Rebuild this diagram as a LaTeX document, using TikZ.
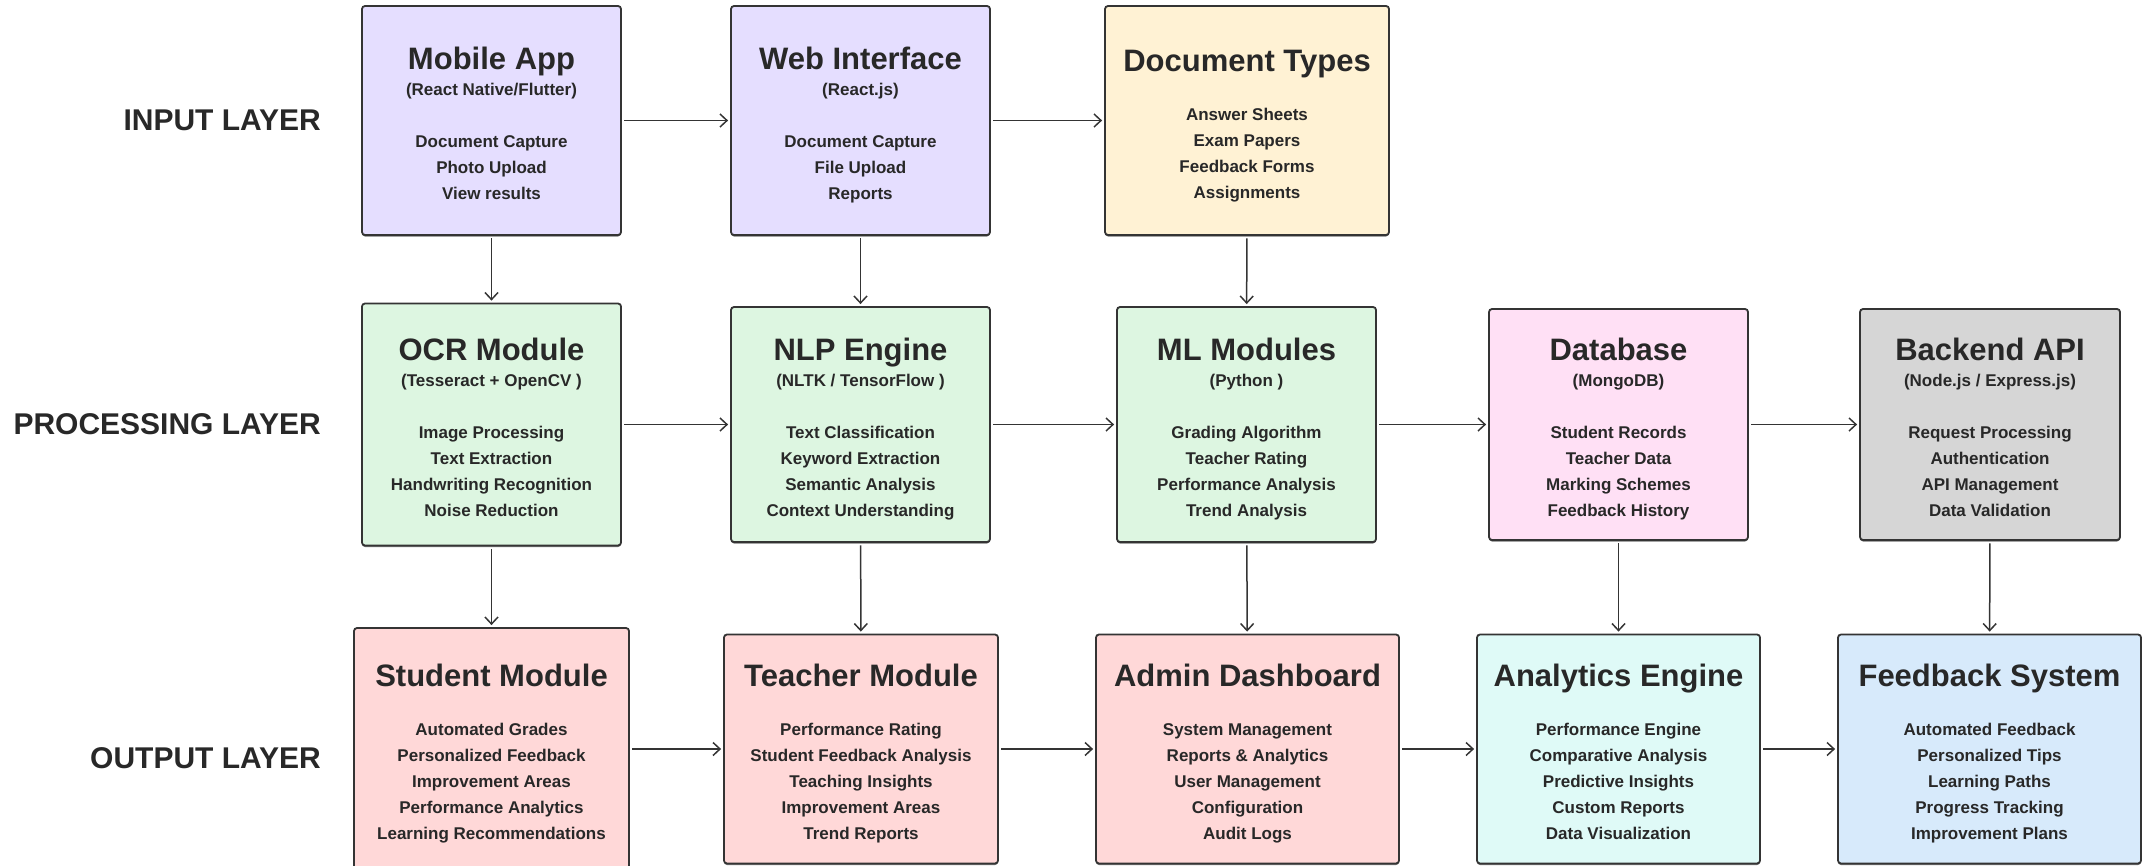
\documentclass[tikz,border=0pt]{standalone}
\usepackage{fontspec}
\setmainfont{Liberation Sans}
\usetikzlibrary{arrows.meta,shadows}
\definecolor{cpurple}{RGB}{229,222,255}
\definecolor{cyellow}{RGB}{255,242,212}
\definecolor{cgreen}{RGB}{221,246,225}
\definecolor{cpink}{RGB}{255,224,245}
\definecolor{cgray}{RGB}{214,214,214}
\definecolor{cred}{RGB}{255,216,216}
\definecolor{ccyan}{RGB}{223,250,247}
\definecolor{cblue}{RGB}{215,234,251}
\definecolor{strk}{RGB}{52,52,52}
\definecolor{txt}{RGB}{40,40,40}
\newcommand\bxc[1]{\setbox0=\vbox{\hsize=200pt\fontsize{17}{26}\selectfont\lineskiplimit=-\maxdimen\lineskip=0pt #1}\dp0=0pt\box0}
\newcommand\bxl[1]{\hbox to\hsize{\hss#1\hss}}
\newcommand\bxt[1]{\bxl{\vrule height 28pt width 0pt\fontsize{31}{31}\selectfont#1}}
\newcommand\bxgap{\bxl{}}
\newcommand\bxgapb{\bxl{}\vskip-3pt}
\begin{document}
\begin{tikzpicture}[x=1pt,y=-1pt,
  bx/.style={draw=strk, line width=1.8pt, rounded corners=3pt, inner sep=0pt,
    text=txt, font=\bfseries,
    drop shadow={shadow xshift=0pt,shadow yshift=-1.5pt,fill=black,opacity=.55}},
  lay/.style={anchor=east, inner sep=0pt, text=txt, font=\fontsize{30}{30}\selectfont\bfseries},
  arr/.style={draw=strk, line width=1.5pt, shorten <=2.5pt, shorten >=2pt,
    -{Straight Barb[length=7pt,width=13pt,line width=1.5pt]}}
]
\useasboundingbox (0,0) rectangle (2152,865);

% layer labels
\node[lay] (lin) at (321,120) {INPUT LAYER};
\node[lay] (lpr) at (321,424) {PROCESSING LAYER};
\node[lay] (lou) at (321,758) {OUTPUT LAYER};

% input layer
\node[bx, fill=cpurple, minimum width=259pt, minimum height=229pt] (mob) at (491.5,120.5)
  {\bxc{\bxt{Mobile App}\bxl{(React Native/Flutter)}\bxgap
  \bxl{Document Capture}\bxl{Photo Upload}\bxl{View results}}};
\node[bx, fill=cpurple, minimum width=259pt, minimum height=229pt] (web) at (860.5,120.5)
  {\bxc{\bxt{Web Interface}\bxl{(React.js)}\bxgap
  \bxl{Document Capture}\bxl{File Upload}\bxl{Reports}}};
\node[bx, fill=cyellow, minimum width=284pt, minimum height=229pt] (doc) at (1247,120.5)
  {\bxc{\bxt{Document Types}\bxgapb
  \bxl{Answer Sheets}\bxl{Exam Papers}\bxl{Feedback Forms}\bxl{Assignments}}};

% processing layer
\node[bx, fill=cgreen, minimum width=259pt, minimum height=242pt] (ocr) at (491.5,424.5)
  {\bxc{\bxt{OCR Module}\bxl{(Tesseract + OpenCV )}\bxgap
  \bxl{Image Processing}\bxl{Text Extraction}\bxl{Handwriting Recognition}\bxl{Noise Reduction}}};
\node[bx, fill=cgreen, minimum width=259pt, minimum height=235pt] (nlp) at (860.5,424.5)
  {\bxc{\bxt{NLP Engine}\bxl{(NLTK / TensorFlow )}\bxgap
  \bxl{Text Classification}\bxl{Keyword Extraction}\bxl{Semantic Analysis}\bxl{Context Understanding}}};
\node[bx, fill=cgreen, minimum width=259pt, minimum height=235pt] (ml) at (1246.5,424.5)
  {\bxc{\bxt{ML Modules}\bxl{(Python )}\bxgap
  \bxl{Grading Algorithm}\bxl{Teacher Rating}\bxl{Performance Analysis}\bxl{Trend Analysis}}};
\node[bx, fill=cpink, minimum width=259pt, minimum height=231pt] (db) at (1618.5,424.5)
  {\bxc{\bxt{Database}\bxl{(MongoDB)}\bxgap
  \bxl{Student Records}\bxl{Teacher Data}\bxl{Marking Schemes}\bxl{Feedback History}}};
\node[bx, fill=cgray, minimum width=260pt, minimum height=231pt] (api) at (1990,424.5)
  {\bxc{\bxt{Backend API}\bxl{(Node.js / Express.js)}\bxgap
  \bxl{Request Processing}\bxl{Authentication}\bxl{API Management}\bxl{Data Validation}}};

% output layer
\node[bx, fill=cred, minimum width=275pt, minimum height=242pt] (stu) at (491.5,749)
  {\bxc{\bxt{Student Module}\bxgapb
  \bxl{Automated Grades}\bxl{Personalized Feedback}\bxl{Improvement Areas}\bxl{Performance Analytics}\bxl{Learning Recommendations}}};
\node[bx, fill=cred, minimum width=274pt, minimum height=229pt] (tea) at (861,749)
  {\bxc{\bxt{Teacher Module}\bxgapb
  \bxl{Performance Rating}\bxl{Student Feedback Analysis}\bxl{Teaching Insights}\bxl{Improvement Areas}\bxl{Trend Reports}}};
\node[bx, fill=cred, minimum width=303pt, minimum height=229pt] (adm) at (1247.5,749)
  {\bxc{\bxt{Admin Dashboard}\bxgapb
  \bxl{System Management}\bxl{Reports \& Analytics}\bxl{User Management}\bxl{Configuration}\bxl{Audit Logs}}};
\node[bx, fill=ccyan, minimum width=283pt, minimum height=229pt] (ana) at (1618.5,749)
  {\bxc{\bxt{Analytics Engine}\bxgapb
  \bxl{Performance Engine}\bxl{Comparative Analysis}\bxl{Predictive Insights}\bxl{Custom Reports}\bxl{Data Visualization}}};
\node[bx, fill=cblue, minimum width=303pt, minimum height=229pt] (fbk) at (1989.5,749)
  {\bxc{\bxt{Feedback System}\bxgapb
  \bxl{Automated Feedback}\bxl{Personalized Tips}\bxl{Learning Paths}\bxl{Progress Tracking}\bxl{Improvement Plans}}};

% horizontal connectors
\draw[arr] (mob) -- (web);
\draw[arr] (web) -- (doc);
\draw[arr] (ocr) -- (nlp);
\draw[arr] (nlp) -- (ml);
\draw[arr] (ml) -- (db);
\draw[arr] (db) -- (api);
\draw[arr] (stu) -- (tea);
\draw[arr] (tea) -- (adm);
\draw[arr] (adm) -- (ana);
\draw[arr] (ana) -- (fbk);

% vertical connectors
\draw[arr] (mob) -- (ocr);
\draw[arr] (web) -- (nlp);
\draw[arr] (doc) -- (ml);
\draw[arr] (ocr) -- (stu);
\draw[arr] (nlp) -- (tea);
\draw[arr] (ml) -- (adm);
\draw[arr] (db) -- (ana);
\draw[arr] (api) -- (fbk);
\end{tikzpicture}
\end{document}
